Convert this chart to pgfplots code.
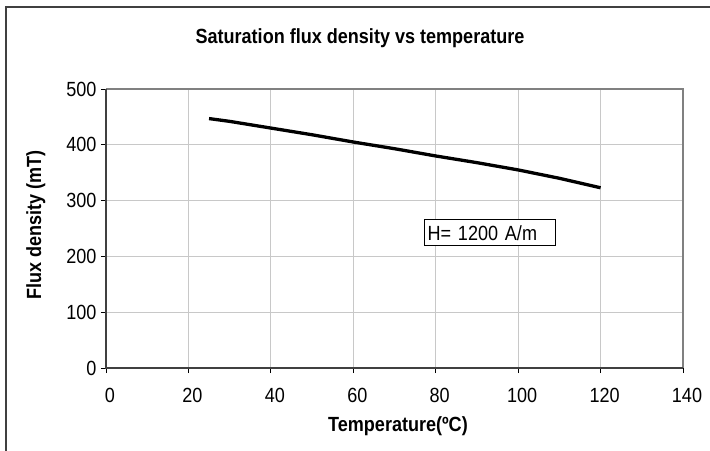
\documentclass[border=0pt]{standalone}
\usepackage{pgfplots}
\pgfplotsset{compat=1.18}
\usepackage{fontspec}
\setmainfont{Liberation Sans}[FakeStretch=0.88]
\definecolor{framec}{HTML}{404040}
\definecolor{gridc}{HTML}{C8C8C8}
\definecolor{boxc}{HTML}{808080}
\newcommand{\ff}{\fontsize{20.5bp}{22bp}\selectfont}
\begin{document}
\begin{tikzpicture}
\path[use as bounding box] (0,0) rectangle (710bp,-451bp);
\draw[framec, line width=2bp] (6bp,-451bp) -- (6bp,-7bp) -- (710bp,-7bp);
\node[anchor=base, font=\bfseries\ff] at (360bp,-43bp) {Saturation flux density vs temperature};
\begin{axis}[
  at={(106bp,-368bp)}, anchor=south west,
  scale only axis, width=577bp, height=279bp,
  xmin=0, xmax=140, ymin=0, ymax=500,
  xtick={0,20,...,140}, ytick={0,100,...,500},
  grid=major, grid style={gridc, line width=1bp},
  axis line style={draw=none},
  tick pos=left, tick align=outside,
  major tick length=5bp,
  tick style={black, line width=0.8bp},
  /pgf/number format/assume math mode=true,
  ticklabel style={font=\ff},
  xticklabel style={anchor=base, yshift=-29bp, xshift=4bp},
  yticklabel style={anchor=east, xshift=-1bp},
  clip=false,
]
\draw[boxc, line width=2bp] (rel axis cs:0,1) -- (rel axis cs:1,1) -- (rel axis cs:1,0);
\draw[framec, line width=1.5bp] (rel axis cs:0,1) -- (rel axis cs:0,0) -- (rel axis cs:1,0);
\addplot[black, line width=3.3bp] coordinates {
(25,447) (30,442) (40,430) (50,418) (60,405) (70,393) (80,380) (90,368) (100,355) (110,340) (120,323)
};
\node[draw=black, line width=1bp, fill=white, anchor=center, inner sep=0pt, minimum width=131bp, minimum height=26bp, text width=125bp, align=left, font=\ff] at (axis cs:93.2,242) {H= 1200 A/m};
\end{axis}
\node[anchor=base, font=\bfseries\ff] at (398bp,-431bp) {Temperature(ºC)};
\node[anchor=base, rotate=90, font=\bfseries\ff] at (41bp,-225bp) {Flux density (mT)};
\end{tikzpicture}
\end{document}
